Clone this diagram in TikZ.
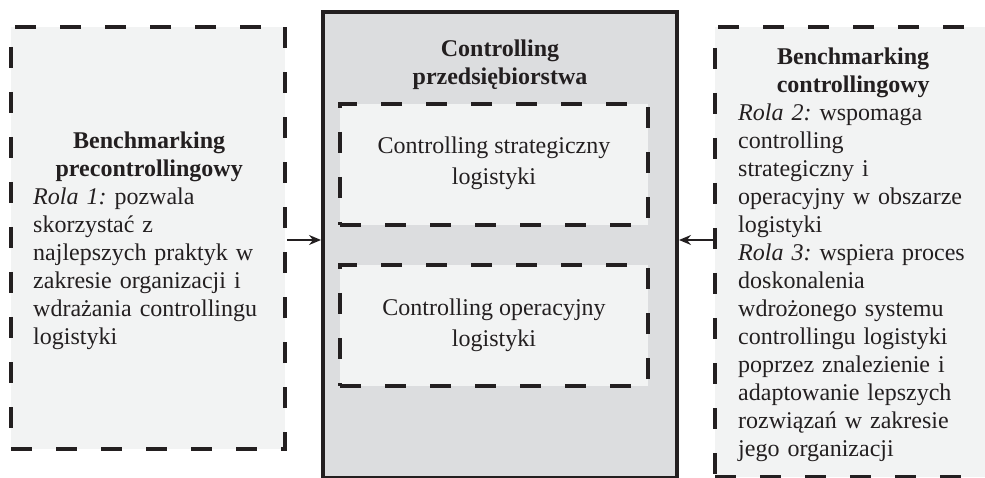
\documentclass[tikz,border=0pt]{standalone}
\usepackage{fontspec}
\setmainfont{Liberation Serif}
\usetikzlibrary{arrows.meta,calc}
\definecolor{ink}{HTML}{231F20}
\definecolor{lightfill}{HTML}{F2F3F3}
\definecolor{midfill}{HTML}{DCDDDF}
\tikzset{
  dbox/.style={draw=ink, fill=lightfill, line width=4pt, dash pattern=on 21pt off 24pt, rectangle, inner sep=0pt},
  mainbox/.style={draw=ink, fill=midfill, line width=4pt, rectangle, inner sep=0pt},
  txt/.style={text=ink, inner sep=0pt, font=\fontsize{24}{28}\selectfont\frenchspacing},
  inner/.style={text=ink, inner sep=0pt, align=center, font=\fontsize{24}{31}\selectfont},
  conn/.style={draw=ink, line width=1.5pt, -{Stealth[length=12pt,width=10pt,inset=4pt]}}
}
\begin{document}
\frenchspacing
\begin{tikzpicture}[x=1pt,y=-1pt]
\useasboundingbox (0,0) rectangle (985,478);
\fill[white] (0,0) rectangle (985,478);
\begin{scope}
\clip (0,0) rectangle (985,478);
% left box
\node[dbox, minimum width=274pt, minimum height=422pt] (lbox) at (148,238) {};
% right box
\node[dbox, minimum width=282pt, minimum height=450pt] (rbox) at (856,252) {};
% center box
\node[mainbox, minimum width=354pt, minimum height=466pt] (cbox) at (500,245) {};
% inner boxes
\node[dbox, minimum width=308pt, minimum height=121pt] (sbox) at (494,164.5) {};
\node[dbox, minimum width=308pt, minimum height=121pt] (obox) at (494,325.5) {};
\end{scope}
% texts
\node[txt, text width=232pt, anchor=north west] (ltxt) at (33,128.4)
 {{\centering\bfseries\strut Benchmarking\\precontrollingowy\par}\raggedright
 \textit{Rola 1:} pozwala\\skorzystać z\\najlepszych praktyk w\\zakresie organizacji i\\wdrażania controllingu\\logistyki};
\node[txt, text width=230pt, anchor=north west] (rtxt) at (738,44.4)
 {{\centering\bfseries\strut Benchmarking\\controllingowy\par}\raggedright
 \textit{Rola 2:} wspomaga\\controlling\\strategiczny i\\operacyjny w obszarze\\logistyki\\
 \textit{Rola 3:} wspiera proces\\doskonalenia\\wdrożonego systemu\\controllingu logistyki\\poprzez znalezienie i\\adaptowanie lepszych\\rozwiązań w zakresie\\jego organizacji};
\node[txt, align=center, anchor=north, font=\fontsize{24}{28}\selectfont\bfseries] (ctxt) at (500,37)
 {\strut Controlling\\przedsiębiorstwa};
\node[inner, anchor=base] (stxt) at (494,185) {Controlling strategiczny\\logistyki};
\node[inner, anchor=base] (otxt) at (494,346) {Controlling operacyjny\\logistyki};
% connectors
\coordinate (la) at ($(lbox.east)+(0,2)$);
\coordinate (ra) at ($(rbox.west)+(0,-12)$);
\draw[conn] (la) -- (la -| cbox.west);
\draw[conn] (ra) -- (ra -| cbox.east);
\end{tikzpicture}
\end{document}
